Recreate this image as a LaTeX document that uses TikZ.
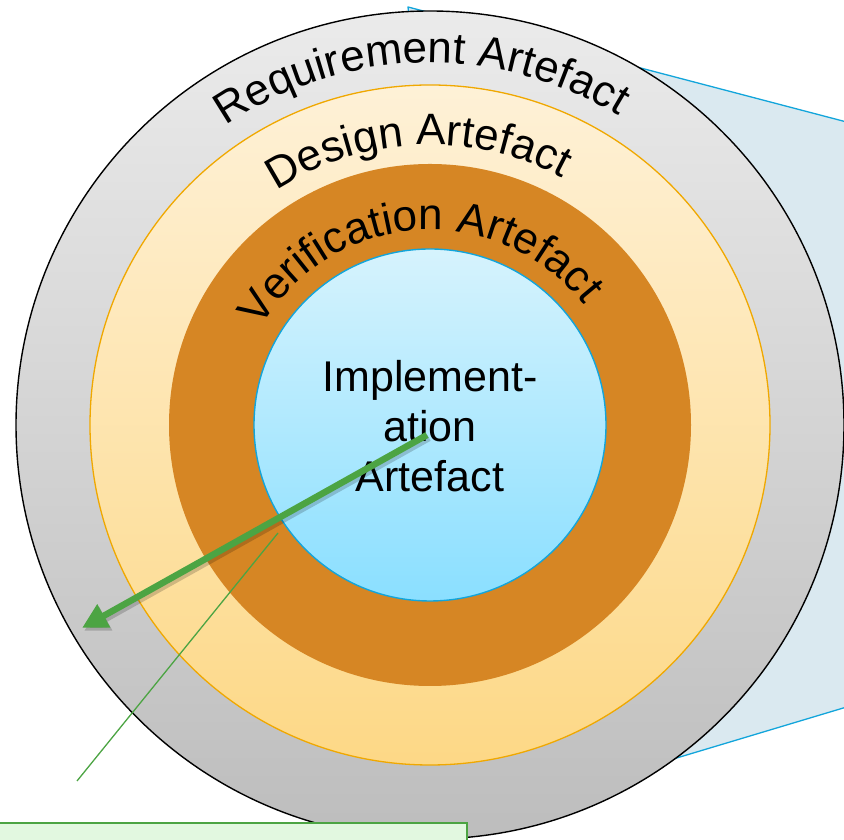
\documentclass[tikz,border=0pt]{standalone}
\usepackage{fontspec}
\setmainfont{Liberation Sans}
\usetikzlibrary{decorations.text,arrows.meta}
\definecolor{reqT}{HTML}{EBEBEB}
\definecolor{reqB}{HTML}{BDBDBD}
\definecolor{desT}{HTML}{FEF1D7}
\definecolor{desB}{HTML}{FDD886}
\definecolor{desLine}{HTML}{F0A800}
\definecolor{verFill}{HTML}{D68624}
\definecolor{impT}{HTML}{D6F3FD}
\definecolor{impB}{HTML}{8ADFFF}
\definecolor{impLine}{HTML}{12A5DB}
\definecolor{calloutFill}{HTML}{DAE9F0}
\definecolor{arrowGreen}{HTML}{4CA443}
\definecolor{boxFill}{HTML}{E2F8E0}
\newcommand\arcfont{\fontsize{44}{50}\selectfont}
\tikzset{
  callout/.style={fill=calloutFill, draw=impLine, line width=1.3pt, line join=round},
  reqring/.style={draw=black, line width=1.4pt, top color=reqT, bottom color=reqB},
  desring/.style={draw=desLine, line width=1.3pt, top color=desT, bottom color=desB},
  verring/.style={fill=verFill},
  impring/.style={draw=impLine, line width=1.4pt, top color=impT, bottom color=impB},
  arctext/.style={decorate, decoration={text along path, text align=center, text color=black}},
  bigarrow/.style={draw=arrowGreen, line width=6.5pt, -{Triangle[length=25pt,width=25pt]}},
  thinline/.style={draw=arrowGreen, line width=1.3pt},
  greenbox/.style={fill=boxFill, draw=arrowGreen, line width=2pt}
}
\begin{document}
\begin{tikzpicture}[x=1pt,y=1pt]
\useasboundingbox (0,0) rectangle (844,840);
\clip (0,0) rectangle (844,840);
\coordinate (C) at (430,415);
% callout wedge behind the rings
\coordinate (ct) at (408,833);
\coordinate (cr1) at (900,704);
\coordinate (cr2) at (900,149);
\coordinate (cb) at (500,29);
\path[callout] (ct) -- (cr1) -- (cr2) -- (cb) -- cycle;
% rings
\path[reqring] (C) circle[radius=414];
\path[desring] (C) circle[radius=340];
\path[verring] (C) circle[radius=261];
\path[impring] (C) circle[radius=176];
% curved labels
\path[arctext, decoration={text={|\arcfont|Requirement Artefact}}]
  (C) ++(181.5:362) arc[start angle=181.5, end angle=1.5, radius=362];
\path[arctext, decoration={text={|\arcfont|Design Artefact}}]
  (C) ++(182.5:280) arc[start angle=182.5, end angle=2.5, radius=280];
\path[arctext, decoration={text={|\arcfont|Verification Artefact}}]
  (C) ++(184:195) arc[start angle=184, end angle=4, radius=195];
% centre label
\node[align=center, font=\fontsize{43}{50}\selectfont] (imp) at (430,414) {Implement-\\ation\\Artefact};
% arrow and pointer line
\coordinate (arrS) at (427,405);
\coordinate (arrE) at (82,212);
\coordinate (lnS) at (278,307);
\coordinate (lnE) at (77,59);
\path[draw=black, opacity=0.18, line width=6.5pt, -{Triangle[length=25pt,width=25pt]}] ([shift={(2,-3)}]arrS) -- ([shift={(2,-3)}]arrE);
\path[bigarrow] (arrS) -- (arrE);
\path[thinline] (lnS) -- (lnE);
% green box at bottom
\coordinate (gb1) at (-3,17);
\coordinate (gb2) at (467,-20);
\path[greenbox] (gb1) rectangle (gb2);
\end{tikzpicture}
\end{document}
